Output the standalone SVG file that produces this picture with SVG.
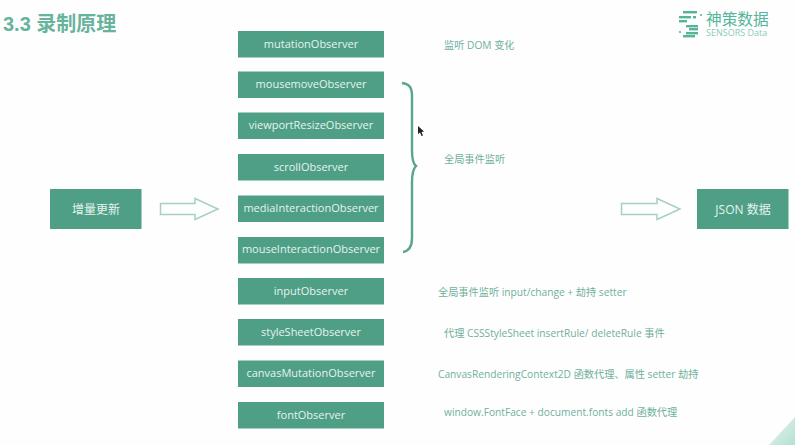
<svg xmlns="http://www.w3.org/2000/svg" width="795" height="445" viewBox="0 0 795 445">
<style>
.box{fill:#4e9f85}
.bt{font-family:"Open Sans","Noto Sans CJK SC",sans-serif;font-size:11px;fill:#e6f3ee;text-anchor:middle}
.note{font-family:"Open Sans","Noto Sans CJK SC",sans-serif;font-size:10.2px;fill:#6fb09c}
.arrow{fill:#fdfefe;stroke:#a9cfc3;stroke-width:1.5}
.brace{fill:none;stroke:#58a58d;stroke-width:2.4}
.logo{fill:#55b59a}
</style>
<defs><linearGradient id="corner" x1="0" y1="0" x2="1" y2="1"><stop offset="0" stop-color="#e6f5f0"/><stop offset="1" stop-color="#b5e0d3"/></linearGradient></defs>
<rect width="795" height="445" fill="#fefefe"/>
<polygon points="795,417 795,445 769,445" fill="url(#corner)"/>
<text x="3" y="31" font-family="'Liberation Sans','Noto Sans CJK SC',sans-serif" font-size="20" font-weight="700" fill="#68b39c">3.3 录制原理</text>
<g id="logo">
<rect class="logo" x="683" y="11" width="14" height="2.4"/><rect class="logo" x="679" y="16" width="12" height="2.4"/><rect class="logo" x="693" y="16" width="3" height="2.4"/><rect class="logo" x="679" y="20" width="8" height="2.4"/><rect class="logo" x="686" y="25" width="12" height="2.4"/><rect class="logo" x="689" y="28" width="9" height="2.4"/><rect class="logo" x="686" y="32" width="12" height="2.4"/><rect class="logo" x="683" y="35" width="12" height="2.4"/><circle class="logo" cx="701" cy="15" r="1.1"/><circle class="logo" cx="680" cy="32" r="1.1"/>
<text x="706" y="24.500" font-family="'Noto Sans CJK SC',sans-serif" font-size="15.700" fill="#55b59a">神策数据</text>
<text x="706" y="35.500" font-family="'Open Sans',sans-serif" font-size="9" fill="#8accb9">SENSORS Data</text>
</g>
<g id="connectors">
<polygon class="arrow" points="160.500,203.500 195,203.500 195,198.500 218,209 195,219.500 195,214.500 160.500,214.500"/>
<polygon class="arrow" points="621.500,203.500 657,203.500 657,198.500 680,209 657,219.500 657,214.500 621.500,214.500"/>
<path class="brace" d="M402 83C409 84 412 87 412 96L412 150C412 160 413 164 416 166C413 169 412 173 412 182L412 238C412 247 409 251 403 252"/>
</g>
<polygon id="cursor" points="418,126 418,134 420,132.500 421.500,136 423,135.500 421.500,132 424,131.500" fill="#222"/>
<g id="n1"><rect class="box" x="238" y="31" width="146" height="26.500"/><text class="bt" x="311" y="47.500">mutationObserver</text></g>
<g id="n2"><rect class="box" x="238" y="71.500" width="146" height="26.500"/><text class="bt" x="311" y="88">mousemoveObserver</text></g>
<g id="n3"><rect class="box" x="238" y="112.500" width="146" height="26.500"/><text class="bt" x="311" y="129">viewportResizeObserver</text></g>
<g id="n4"><rect class="box" x="238" y="154" width="146" height="26.500"/><text class="bt" x="311" y="170.500">scrollObserver</text></g>
<g id="n5"><rect class="box" x="238" y="195.500" width="146" height="26.500"/><text class="bt" x="311" y="212">mediaInteractionObserver</text></g>
<g id="n6"><rect class="box" x="238" y="237" width="146" height="26.500"/><text class="bt" x="311" y="253">mouseInteractionObserver</text></g>
<g id="n7"><rect class="box" x="238" y="278" width="146" height="26.500"/><text class="bt" x="311" y="295">inputObserver</text></g>
<g id="n8"><rect class="box" x="238" y="319" width="146" height="26.500"/><text class="bt" x="311" y="336">styleSheetObserver</text></g>
<g id="n9"><rect class="box" x="238" y="360.500" width="146" height="26.500"/><text class="bt" x="311" y="377">canvasMutationObserver</text></g>
<g id="n10"><rect class="box" x="238" y="402" width="146" height="26.500"/><text class="bt" x="311" y="419">fontObserver</text></g>
<g id="src"><rect class="box" x="50" y="189" width="91.500" height="40"/><text class="bt" x="96" y="214" style="font-size:12px">增量更新</text></g>
<g id="dst"><rect class="box" x="697" y="189" width="91.500" height="40"/><text class="bt" x="743" y="214" style="font-size:12px">JSON 数据</text></g>
<g id="notes">
<text class="note" x="444" y="49">监听 DOM 变化</text>
<text class="note" x="444" y="163">全局事件监听</text>
<text class="note" x="438" y="296">全局事件监听 input/change + 劫持 setter</text>
<text class="note" x="444" y="337">代理 CSSStyleSheet insertRule/ deleteRule 事件</text>
<text class="note" x="438" y="378">CanvasRenderingContext2D 函数代理、属性 setter 劫持</text>
<text class="note" x="444" y="416">window.FontFace + document.fonts add 函数代理</text>
</g>
</svg>
